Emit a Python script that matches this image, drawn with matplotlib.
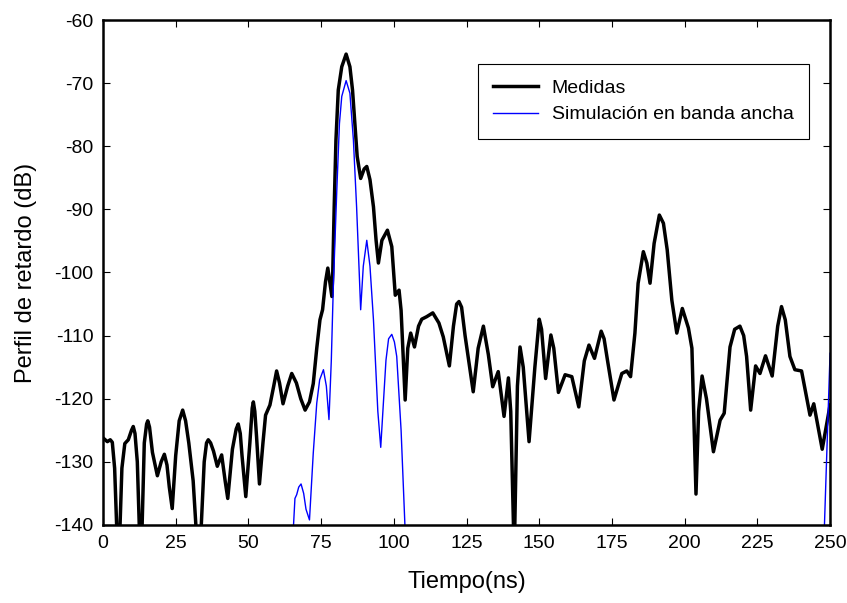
import numpy as np
import matplotlib
matplotlib.use("Agg")
import matplotlib.pyplot as plt

plt.rcParams['font.family'] = ['Liberation Sans', 'DejaVu Sans']
plt.rcParams['axes.unicode_minus'] = False

# Medidas (t en ns, perfil en dB)
t_med = [0, 1.5, 2.5, 3.2, 4, 5.3, 6.5, 7.5, 8.7, 9.8, 10.4, 11, 11.8, 13, 14.2,
         15, 15.4, 16, 17, 18.7, 20, 21.1, 22, 22.8, 23.8, 25, 26.2, 27.4, 28.4,
         29.5, 31, 33, 34.8, 35.6, 36.2, 37, 38, 39.3, 40.8, 42, 42.9, 44.5,
         45.8, 46.5, 47.2, 47.8, 49.1, 50.5, 51.3, 51.7, 52.2, 52.8, 53.8, 55,
         55.9, 57.4, 58.7, 59.7, 60.7, 61.9, 63.5, 64.9, 66.5, 68, 69.5, 71,
         72.3, 73.5, 74.6, 75.5, 76.5, 77.3, 78, 78.7, 79, 79.5, 80.1, 80.9,
         82.1, 83.6, 84.9, 85.8, 86.6, 87.4, 88.6, 89.8, 90.7, 91.8, 93, 93.9,
         94.7, 95.9, 97.8, 99.3, 100.5, 101.8, 102.5, 103.9, 104.8, 105.8,
         107.1, 108.5, 109.6, 111.3, 113.4, 115.5, 117, 119.1, 120.5, 121.6,
         122.4, 123.3, 124.5, 127.3, 129, 130.8, 132.5, 134, 135.9, 137.9,
         139.4, 140.2, 141.4, 142.5, 143.4, 144.5, 146.5, 148.5, 150, 150.8,
         152.2, 154, 155, 156.6, 158.9, 161.2, 163.6, 165.5, 167.1, 169, 171.3,
         172.3, 173.5, 175.7, 178.4, 180.1, 181.4, 182.9, 184, 185.8, 187,
         188.1, 189.5, 191.3, 192.7, 194, 195.6, 197.3, 199.2, 201.3, 202.5,
         203.3, 203.9, 204.8, 206, 207.5, 209.9, 212.2, 213.6, 215.6, 217.2,
         219, 220.3, 221.3, 222.7, 224.4, 225.9, 227.8, 230.1, 232, 233.3,
         234.6, 236.2, 237.9, 240.2, 243.1, 244.4, 247.3, 249.7, 250]
v_med = [-126.2, -126.8, -126.5, -126.9, -131, -148, -131, -127.1, -126.5,
         -125, -124.4, -125.5, -130, -148, -127, -124, -123.5, -124.5, -128.5,
         -132.2, -130, -128.8, -130.5, -134, -137.4, -129, -123.5, -121.8,
         -123.5, -127, -133, -148, -130, -127, -126.5, -127, -128.3, -130.7,
         -128.9, -133, -135.8, -128, -124.8, -124, -125.5, -129, -135.5, -127,
         -121.5, -120.5, -122, -126, -133.5, -127, -122.6, -121, -118, -115.6,
         -117.5, -120.8, -118, -116, -117.5, -120, -121.8, -120.5, -117.6,
         -112, -107.5, -105.9, -101.5, -99.3, -101.5, -103.8, -100, -89.6, -79,
         -71.1, -67.4, -65.4, -67.4, -71.1, -76.4, -81.6, -85.1, -83.6, -83.2,
         -85.3, -89.6, -94.9, -98.5, -94.9, -93.3, -95.9, -103.6, -102.8,
         -106, -120.2, -112, -109.6, -111.8, -108.5, -107.4, -107, -106.4, -108,
         -110.2, -114.8, -108.5, -105, -104.6, -105.5, -110, -118.9, -112,
         -108.5, -113, -118.1, -115.7, -122.8, -116.7, -122, -145, -118,
         -111.8, -115, -126.8, -115, -107.4, -109, -116.8, -109.9, -112, -119,
         -116.2, -116.5, -121.3, -114, -111.5, -113.6, -109.3, -110.5, -114,
         -120.2, -116, -115.6, -116.5, -109.6, -101.7, -96.7, -98.5, -101.7,
         -95.4, -90.9, -92.2, -96.4, -104.4, -109.6, -105.7, -108.8, -112,
         -125, -135.1, -122, -116.4, -120, -128.4, -123.4, -122.3, -111.8,
         -109, -108.5, -110, -113.3, -121.8, -114.8, -116, -113.2, -116.4,
         -108.5, -105.4, -107.5, -113.3, -115.4, -115.6, -122.6, -120.8, -128,
         -121.8, -121]

# Simulacion en banda ancha
t_sim = [65.4, 66, 66.6, 67.3, 68.1, 69, 69.8, 71, 72.3, 73.5, 74.5, 75.8,
         76.8, 77.7, 78.5, 79.2, 80.4, 81.3, 82.1, 83.6, 84.9, 86.1, 87.2,
         88.1, 88.6, 89.5, 90.7, 91.8, 93, 94.5, 95.5, 96.5, 97.3, 98.2, 99.3,
         100.2, 101, 102.5, 103.9, np.nan, 248, 250]
v_sim = [-141, -135.8, -135.2, -134, -133.5, -135, -137.5, -139.2, -128.6,
         -120.7, -117, -115.4, -118, -123.3, -114, -102.2, -86.9, -76.4,
         -72.1, -69.6, -71.6, -79, -89.6, -100, -105.9, -99, -94.9, -99,
         -107.5, -122, -127.7, -120, -113.9, -110.5, -109.8, -111, -113.3,
         -125, -141, np.nan, -141, -112.8]

fig = plt.figure(figsize=(8.47, 6.03), dpi=100)
ax = fig.add_axes([0.1216, 0.1294, 0.8584, 0.8374])

ax.plot(t_med, v_med, color='black', linewidth=2.5, solid_joinstyle='round',
        label='Medidas')
ax.plot(t_sim, v_sim, color='#0000ff', linewidth=1, solid_joinstyle='round',
        label='Simulación en banda ancha')

ax.set_xlim(0, 250)
ax.set_ylim(-140, -60)
ax.set_xticks(np.arange(0, 251, 25))
ax.set_yticks(np.arange(-140, -59, 10))
ax.tick_params(direction='in', top=True, right=True, labelsize=14, length=5, pad=7)
for sp in ax.spines.values():
    sp.set_linewidth(1.8)

ax.set_xlabel('Tiempo(ns)', fontsize=17, labelpad=14)
ax.set_ylabel('Perfil de retardo (dB)', fontsize=17, labelpad=12)

leg = ax.legend(loc='upper right', bbox_to_anchor=(0.971, 0.913), borderaxespad=0,
                fontsize=14, fancybox=False, edgecolor='black', framealpha=1,
                handlelength=2.3, handletextpad=0.7, borderpad=0.8, labelspacing=0.45)
leg.get_frame().set_linewidth(0.8)

fig.savefig('out.png', dpi=100)
